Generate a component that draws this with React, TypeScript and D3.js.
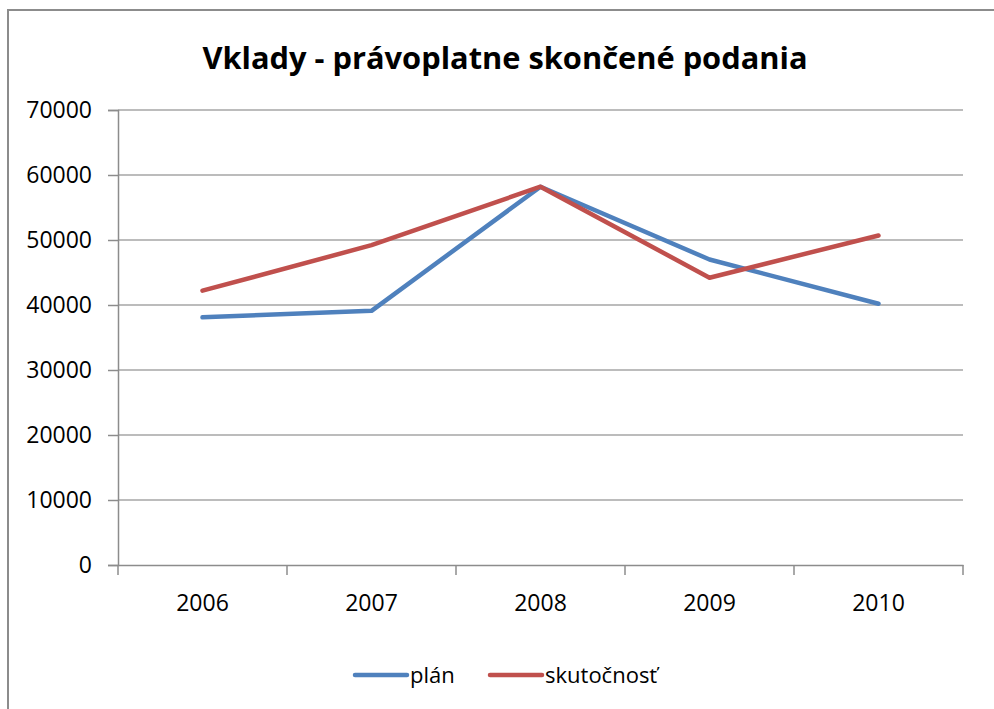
import * as d3 from "d3";
import { useEffect, useRef } from "react";

const years = ["2006", "2007", "2008", "2009", "2010"];
const planValues = [38100, 39100, 58200, 47000, 40200];
const actualValues = [42200, 49200, 58200, 44200, 50700];
const yTicks = [0, 10000, 20000, 30000, 40000, 50000, 60000, 70000];

const series = [
  { name: "plán", values: planValues, color: "#4F81BD" },
  { name: "skutočnosť", values: actualValues, color: "#C0504D" },
];

const width = 994;
const height = 709;
const font = "'Open Sans', sans-serif";

export default function App() {
  const ref = useRef<SVGSVGElement>(null);

  useEffect(() => {
    const svg = d3.select(ref.current);
    svg.selectAll("*").remove();

    const margin = { top: 110, right: 31, bottom: 144, left: 118 };

    // outer chart frame (cut off at right and bottom)
    svg
      .append("rect")
      .attr("x", 8)
      .attr("y", 10)
      .attr("width", width + 20)
      .attr("height", height + 20)
      .attr("fill", "#fff")
      .attr("stroke", "#8c8c8c")
      .attr("stroke-width", 2);

    svg
      .append("text")
      .attr("x", 505)
      .attr("y", 69)
      .attr("text-anchor", "middle")
      .attr("font-family", font)
      .attr("font-weight", "bold")
      .attr("font-size", 30.8)
      .attr("fill", "#000")
      .text("Vklady - právoplatne skončené podania");

    const x = d3
      .scaleBand()
      .domain(years)
      .range([margin.left, width - margin.right]);

    const y = d3
      .scaleLinear()
      .domain([0, 70000])
      .range([height - margin.bottom, margin.top]);

    // gridlines
    svg
      .append("g")
      .selectAll("line")
      .data(yTicks.filter((d) => d > 0))
      .join("line")
      .attr("x1", margin.left)
      .attr("x2", width - margin.right)
      .attr("y1", (d) => y(d))
      .attr("y2", (d) => y(d))
      .attr("stroke", "#a6a6a6")
      .attr("stroke-width", 1.5);

    const yAxis = svg
      .append("g")
      .attr("transform", `translate(${margin.left},0)`)
      .call(d3.axisLeft(y).tickValues(yTicks).tickSize(10).tickPadding(16).tickFormat(d3.format("d")));
    yAxis.select(".domain").attr("stroke", "#8c8c8c").attr("stroke-width", 1.5);
    yAxis.selectAll(".tick line").attr("stroke", "#8c8c8c").attr("stroke-width", 1.5);
    yAxis
      .selectAll(".tick text")
      .attr("font-family", font)
      .attr("font-size", 23)
      .attr("fill", "#000");

    const xAxis = svg
      .append("g")
      .attr("transform", `translate(0,${height - margin.bottom})`)
      .call(d3.axisBottom(x).tickSize(0).tickPadding(30));
    xAxis.select(".domain").attr("stroke", "#8c8c8c").attr("stroke-width", 1.5);
    xAxis.selectAll(".tick text").attr("font-family", font).attr("font-size", 23).attr("fill", "#000");

    // category boundary tick marks
    const bounds = years.map((d) => x(d) as number).concat([width - margin.right]);
    svg
      .append("g")
      .selectAll("line")
      .data(bounds)
      .join("line")
      .attr("x1", (d) => d)
      .attr("x2", (d) => d)
      .attr("y1", height - margin.bottom)
      .attr("y2", height - margin.bottom + 10)
      .attr("stroke", "#8c8c8c")
      .attr("stroke-width", 1.5);

    const line = d3
      .line<number>()
      .x((_, i) => (x(years[i]) as number) + x.bandwidth() / 2)
      .y((d) => y(d));

    series.forEach((s) => {
      svg
        .append("path")
        .datum(s.values)
        .attr("fill", "none")
        .attr("stroke", s.color)
        .attr("stroke-width", 4.5)
        .attr("stroke-linecap", "round")
        .attr("stroke-linejoin", "round")
        .attr("d", line);
    });

    // legend
    const legendPos = [355, 490];
    series.forEach((s, i) => {
      const g = svg.append("g").attr("transform", `translate(${legendPos[i]},675)`);
      g.append("line")
        .attr("x1", 0)
        .attr("x2", 52)
        .attr("stroke", s.color)
        .attr("stroke-width", 4.5)
        .attr("stroke-linecap", "round");
      g.append("text")
        .attr("x", 55)
        .attr("y", 8)
        .attr("font-family", font)
        .attr("font-size", 22)
        .attr("fill", "#000")
        .text(s.name);
    });
  }, []);

  return (
    <svg
      ref={ref}
      width={width}
      height={height}
      style={{ position: "absolute", left: 0, top: 0 }}
    />
  );
}
